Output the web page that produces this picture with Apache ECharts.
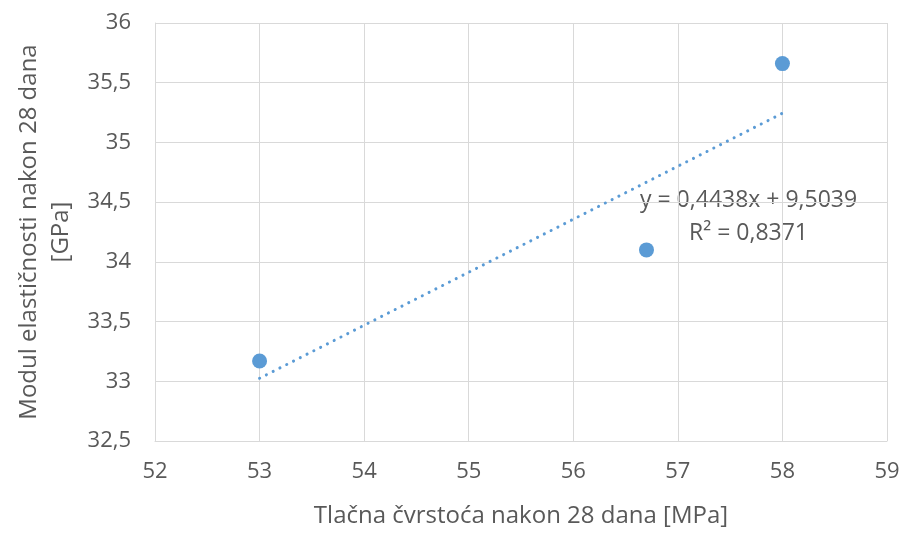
<!DOCTYPE html>
<html><head><meta charset="utf-8">
<script src="https://cdn.jsdelivr.net/npm/echarts@6/dist/echarts.min.js"></script>
<style>html,body{margin:0;padding:0;background:#fff}#c{width:904px;height:533px}</style>
</head><body><div id="c"></div>
<script>
const xValues = [53, 56.7, 58];
const yValues = [33.17, 34.1, 35.66];
const trendCoef = [0.4438, 9.5039];
const trendX = [53, 58];
const eqText = ['y = 0,4438x + 9,5039', 'R² = 0,8371'];
const xName = 'Tlačna čvrstoća nakon 28 dana [MPa]';
const yName = 'Modul elastičnosti nakon 28 dana\n[GPa]';

const FONT = '"Open Sans"';
const TXT = '#595959';
const BLUE = '#5B9BD5';
const comma = v => String(v).replace('.', ',');

const chart = echarts.init(document.getElementById('c'));
chart.setOption({
  animation: false,
  grid: {left: 155, right: 17, top: 23, bottom: 92, outerBoundsMode: 'none', containLabel: false},
  xAxis: {
    type: 'value', min: 52, max: 59, interval: 1,
    name: xName, nameLocation: 'middle', nameGap: 63,
    nameTextStyle: {color: TXT, fontSize: 24, fontFamily: FONT},
    axisLine: {show: true, lineStyle: {color: '#D9D9D9'}},
    axisTick: {show: false},
    axisLabel: {color: TXT, fontSize: 22, fontFamily: FONT, margin: 20, formatter: comma},
    splitLine: {show: true, lineStyle: {color: '#D9D9D9', width: 1}}
  },
  yAxis: {
    type: 'value', min: 32.5, max: 36, interval: 0.5,
    name: yName, nameLocation: 'middle', nameGap: 78,
    nameTextStyle: {color: TXT, fontSize: 24, fontFamily: FONT, lineHeight: 32},
    axisLine: {show: true, lineStyle: {color: '#D9D9D9'}},
    axisTick: {show: false},
    axisLabel: {color: TXT, fontSize: 22, fontFamily: FONT, margin: 24, formatter: comma},
    splitLine: {show: true, lineStyle: {color: '#D9D9D9', width: 1}}
  },
  series: [
    {
      type: 'line',
      data: trendX.map(x => [x, trendCoef[0] * x + trendCoef[1]]),
      symbol: 'none',
      lineStyle: {color: BLUE, width: 3, type: [0.1, 7.5], cap: 'round'},
      z: 2
    },
    {
      type: 'scatter',
      data: xValues.map((x, i) => [x, yValues[i]]),
      symbol: 'circle', symbolSize: 15,
      itemStyle: {color: BLUE, opacity: 1},
      z: 3
    }
  ],
  graphic: [
    {type: 'text', left: 640, top: 189, style: {text: eqText[0], fill: TXT, font: '23px ' + FONT}},
    {type: 'text', left: 689, top: 222, style: {text: eqText[1], fill: TXT, font: '23px ' + FONT}}
  ]
});
</script></body></html>
